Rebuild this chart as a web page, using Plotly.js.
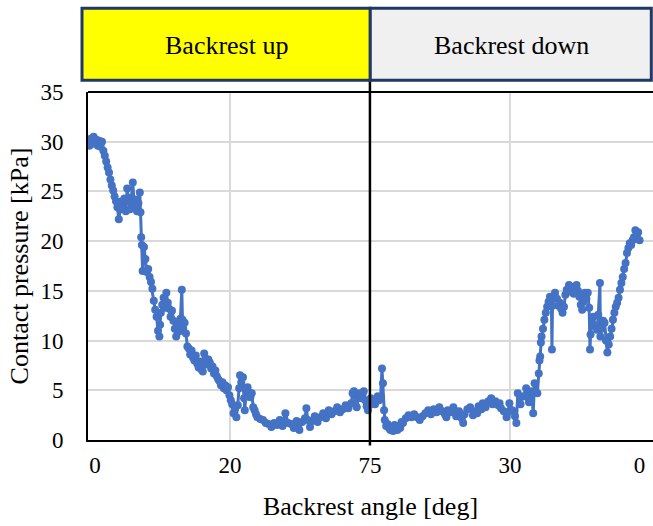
<!DOCTYPE html>
<html>
<head>
<meta charset="utf-8">
<script src="https://cdn.plot.ly/plotly-3.0.1.min.js"></script>
<style>html,body{margin:0;padding:0;background:#fff;}#chart{width:653px;height:526px;}</style>
</head>
<body>
<div id="chart"></div>
<script>
// sample index along the test (backrest up then backrest down)
const sampleIndex = [
 -4,-3,-2,-1,0,1,2,3,4,5,6,7,8,9,10,11,12,13,14,15,16,17,
 18,19,20,21,22,23,24,25,26,27,28,29,30,31,32,32.5,
 33,33.5,34,35,36,37,38,39,40,41,42,43,44,45,46,46.5,
 47,48,49,50,51,52,53,54,55,56,57,58,59,60,61,62,62.5,63,64,65,66,
 67,68,69,70,71,72,73,74,75,76,77,78,79,80,81,82,83,84,85,86,87,88,89,90,91,92,93,94,95,96,97,98,99,100,101,
 102,103,103.6,104.5,105.7,106.5,107,108,109,110,111,112,113,114,115,116,118,120,122,124,126,128,130,132,134,136,138,140,142,144,146,148,150,151,152,153.6,
 155,157,159,161,163,165,167,169,171,173,175,177,179,181,183,184,185,186,187,188,189,190,191,192,193,194,195,196,
 197,198,199,200,201,202,203,204,205,205.7,206.5,207,208,209,210,211,212,213,214,215,216,217,218,219,220,222,224,226,228,230,232,234,236,238,240,
 242,244,246,248,250,251,252,254,256,258,260,262,263,264,266,268,270,272,273,274,276,277,279,281,283,284,286,288,289,290,292,294,295,296,298,300,301,302,304,306,308,309,310,312,313,314,315,316,
 317,317.5,318,318.5,319,320,321,322,323,324,325,326,326.4,326.8,327,328.6,330,331,332,333,334,335,336,337,338.6,
 340,341,342,343,344,345,346,347,348,349,350,351,352,353,353.6,354,355,356,357,358.6,359.5,360.7,361,362,363,364,365,366,367,368,369,370,371,372,373,374,375,376,377,378,379,380,381,382,383,384,385,386,387,388,389
];
// contact pressure [kPa]
const contactPressure = [
 29.6,30.3,29.8,30.5,29.9,30.2,29.6,30.1,29.5,30.0,29.1,28.6,28.0,27.4,26.9,26.2,25.6,25.1,24.5,24.0,23.4,22.2,
 23.2,24.0,23.4,24.3,23.0,25.3,24.1,23.2,24.4,25.9,23.6,24.2,23.0,23.8,24.9,22.9,
 20.4,19.6,17.0,19.4,18.2,16.9,17.2,16.4,15.9,15.2,14.0,13.1,12.4,11.0,10.4,11.6,
 12.8,13.6,14.3,13.3,14.8,13.8,13.2,12.4,13.0,12.0,11.2,10.4,11.6,10.9,12.2,15.1,12.1,11.2,11.8,10.7,9.4,
 9.2,8.6,9.0,8.3,8.0,8.5,7.7,7.3,7.9,7.1,6.9,8.7,8.2,7.6,8.1,7.8,7.2,7.4,6.7,7.0,6.4,6.1,5.9,5.5,5.8,5.2,5.5,5.0,5.3,4.5,4.0,3.6,2.7,3.2,2.3,
 3.5,5.2,6.5,5.8,6.3,4.2,3.0,4.9,5.3,4.8,4.3,4.7,3.3,3.0,2.6,2.3,2.1,2.0,1.7,1.6,1.3,1.7,1.5,2.0,1.4,2.7,1.7,1.6,1.2,1.9,1.0,1.8,2.2,3.2,2.0,1.3,
 1.9,2.4,1.8,2.3,2.7,2.2,3.0,2.6,2.9,3.3,2.8,3.1,3.5,3.2,3.7,4.7,4.9,3.6,3.3,4.4,4.7,4.2,4.5,4.9,4.0,3.4,3.0,3.5,
 4.2,3.8,4.0,3.6,4.1,4.4,4.0,4.3,7.2,5.7,3.0,2.0,1.4,1.6,1.2,1.0,1.3,0.9,1.5,1.1,1.0,1.4,1.2,1.8,1.7,2.2,2.5,2.3,2.6,2.3,2.0,2.4,2.7,3.0,2.6,
 3.1,2.8,3.3,2.9,2.6,2.3,3.0,2.8,3.3,2.4,2.9,2.2,1.7,2.6,3.1,3.3,2.5,2.9,2.7,3.4,3.1,3.7,3.3,3.9,4.2,3.6,3.9,3.5,3.7,3.2,2.9,2.3,2.8,3.7,3.0,2.4,1.7,4.7,3.6,4.4,5.2,4.3,3.8,4.9,2.7,5.7,4.8,4.7,
 6.7,8.0,8.4,9.8,10.4,11.2,12.1,12.8,13.4,13.9,14.4,14.1,9.1,13.5,14.3,14.8,14.2,13.5,13.8,13.2,12.8,13.4,14.6,15.1,15.6,
 14.9,15.4,14.7,15.2,15.6,15.0,14.4,13.6,13.1,13.9,14.8,14.2,14.8,13.3,9.1,10.6,11.8,12.4,11.5,11.1,12.6,15.8,10.4,11.2,12.0,11.8,10.0,8.8,9.6,10.4,11.2,12.1,12.8,13.4,13.8,14.3,15.1,15.8,16.4,17.2,17.8,18.8,19.3,19.8,19.6,20.1,20.4,21.1,20.6,20.9,20.1
];
// tick labels: backrest angle [deg]
const tickPositions = [0, 96.4, 196.4, 296.4, 389];
const tickLabels = ["0", "20", "75", "30", "0"];
const gridPositions = [96.4, 296.4];
const turnIndex = 196.4;
const phaseLabels = ["Backrest up", "Backrest down"];

const serif = "Liberation Serif, Times New Roman, serif";
const blue = "#4472C4";
const navy = "#203864";

const shapes = [];
gridPositions.forEach(g => shapes.push({type:"line", xref:"x", yref:"paper", x0:g, x1:g, y0:0, y1:1, line:{color:"#D9D9D9", width:2}, layer:"below"}));
// top border
shapes.push({type:"line", xref:"paper", yref:"paper", x0:0, x1:1, y0:1, y1:1, line:{color:"#000", width:2}});
// turn line
shapes.push({type:"line", xref:"x", yref:"paper", x0:turnIndex, x1:turnIndex, y0:-0.016, y1:1.034, line:{color:"#000", width:2.5}});
// header boxes
shapes.push({type:"rect", xref:"paper", yref:"paper", x0:-0.0106, x1:0.4996, y0:1.034, y1:1.241, fillcolor:"#FFFF00", line:{color:navy, width:3}});
shapes.push({type:"rect", xref:"paper", yref:"paper", x0:0.4996, x1:0.997, y0:1.034, y1:1.241, fillcolor:"#F0F0F0", line:{color:navy, width:3}});

const annotations = [
 {xref:"paper", yref:"paper", x:0.2445, y:1.134, text:phaseLabels[0], showarrow:false, font:{family:serif, size:26, color:"#000"}, xanchor:"center", yanchor:"middle"},
 {xref:"paper", yref:"paper", x:0.749, y:1.134, text:phaseLabels[1], showarrow:false, font:{family:serif, size:26, color:"#000"}, xanchor:"center", yanchor:"middle"}
];

Plotly.newPlot("chart", [{
  x: sampleIndex, y: contactPressure, type:"scatter", mode:"lines+markers",
  line:{color:blue, width:3}, marker:{color:blue, size:8}, hoverinfo:"skip"
}], {
  width:653, height:526,
  margin:{l:88, r:0, t:92, b:86},
  paper_bgcolor:"#fff", plot_bgcolor:"#fff",
  showlegend:false,
  xaxis:{range:[-5, 398.6], tickvals:tickPositions, ticktext:tickLabels, showgrid:false, zeroline:false,
    showline:true, linecolor:"#000", linewidth:2, ticks:"", ticklabelstandoff:3,
    tickfont:{family:serif, size:23, color:"#000"},
    title:{text:"Backrest angle [deg]", font:{family:serif, size:26, color:"#000"}, standoff:20}},
  yaxis:{range:[0,35], dtick:5, showgrid:true, gridcolor:"#D9D9D9", gridwidth:2, zeroline:false,
    showline:true, linecolor:"#000", linewidth:2, ticks:"", ticklabelstandoff:18,
    tickfont:{family:serif, size:23, color:"#000"},
    title:{text:"Contact pressure [kPa]", font:{family:serif, size:26, color:"#000"}, standoff:4}},
  shapes: shapes, annotations: annotations
}, {displayModeBar:false, staticPlot:true});
</script>
</body>
</html>
